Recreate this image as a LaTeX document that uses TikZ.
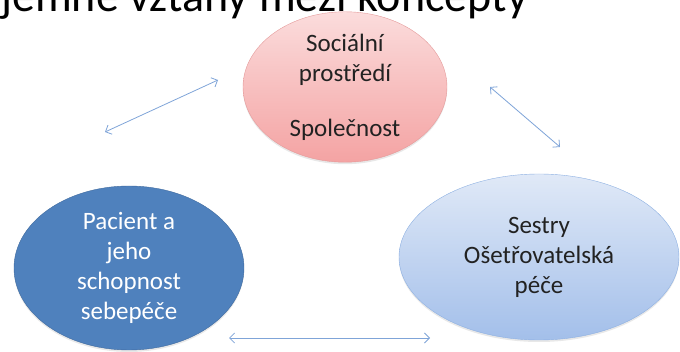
\documentclass[tikz,border=0pt]{standalone}
\usepackage{fontspec}
\setmainfont{Carlito}
\usetikzlibrary{shapes.geometric,arrows.meta,shadows}
\definecolor{roseclair}{HTML}{FBDCDC}
\definecolor{rosefonce}{HTML}{F4A3A3}
\definecolor{rosebord}{HTML}{E49A9A}
\definecolor{bleufonce}{HTML}{4F81BD}
\definecolor{bleubord}{HTML}{3F6A9E}
\definecolor{bleuclair}{HTML}{E0E9F7}
\definecolor{bleumoyen}{HTML}{A3BFEA}
\definecolor{bleutrait}{HTML}{8DB0E2}
\definecolor{fleche}{HTML}{7FA4D8}
\definecolor{texte}{HTML}{222222}
\tikzset{
  concept/.style={ellipse,inner sep=0pt,align=center,
    font=\fontsize{25}{30}\selectfont,
    drop shadow={opacity=0.18,shadow xshift=0pt,shadow yshift=-2pt}},
  lien/.style={color=fleche,line width=0.8pt,
    {Straight Barb[length=5pt,width=10pt]}-{Straight Barb[length=5pt,width=10pt]}}
}
\begin{document}
\begin{tikzpicture}[x=1pt,y=-1pt] % 1 pixel = 1 pt, y vers le bas
\useasboundingbox (0,0) rectangle (680,352);
\clip (0,0) rectangle (680,352);
% titre coupé en haut
\node[anchor=base east,inner sep=0pt,text=black,
  font=\fontsize{46}{46}\selectfont] (titre) at (528,12) {Vzájemné vztahy mezi koncepty};
% les trois concepts
\node[concept,minimum width=204pt,minimum height=136pt,
  top color=roseclair,bottom color=rosefonce,draw=rosebord,text=texte]
  (social) at (345,87) {Sociální\\prostředí\\[25pt]Společnost};
\node[concept,minimum width=230pt,minimum height=164pt,
  fill=bleufonce,draw=bleubord,text=white]
  (pacient) at (129,268) {Pacient a\\jeho\\schopnost\\sebepéče};
\node[concept,minimum width=280pt,minimum height=166pt,
  top color=bleuclair,bottom color=bleumoyen,draw=bleutrait,text=texte]
  (sestry) at (539,257) {Sestry\\Ošetřovatelská\\péče};
% extrémités des flèches
\coordinate (g1) at (105,132);
\coordinate (g2) at (218,80);
\coordinate (d1) at (490,87);
\coordinate (d2) at (560,147);
\coordinate (b1) at (229,338);
\coordinate (b2) at (430,338);
\draw[lien] (g1)--(g2); % pacient <-> social
\draw[lien] (d1)--(d2); % social <-> sestry
\draw[lien] (b1)--(b2); % pacient <-> sestry
\end{tikzpicture}
\end{document}
